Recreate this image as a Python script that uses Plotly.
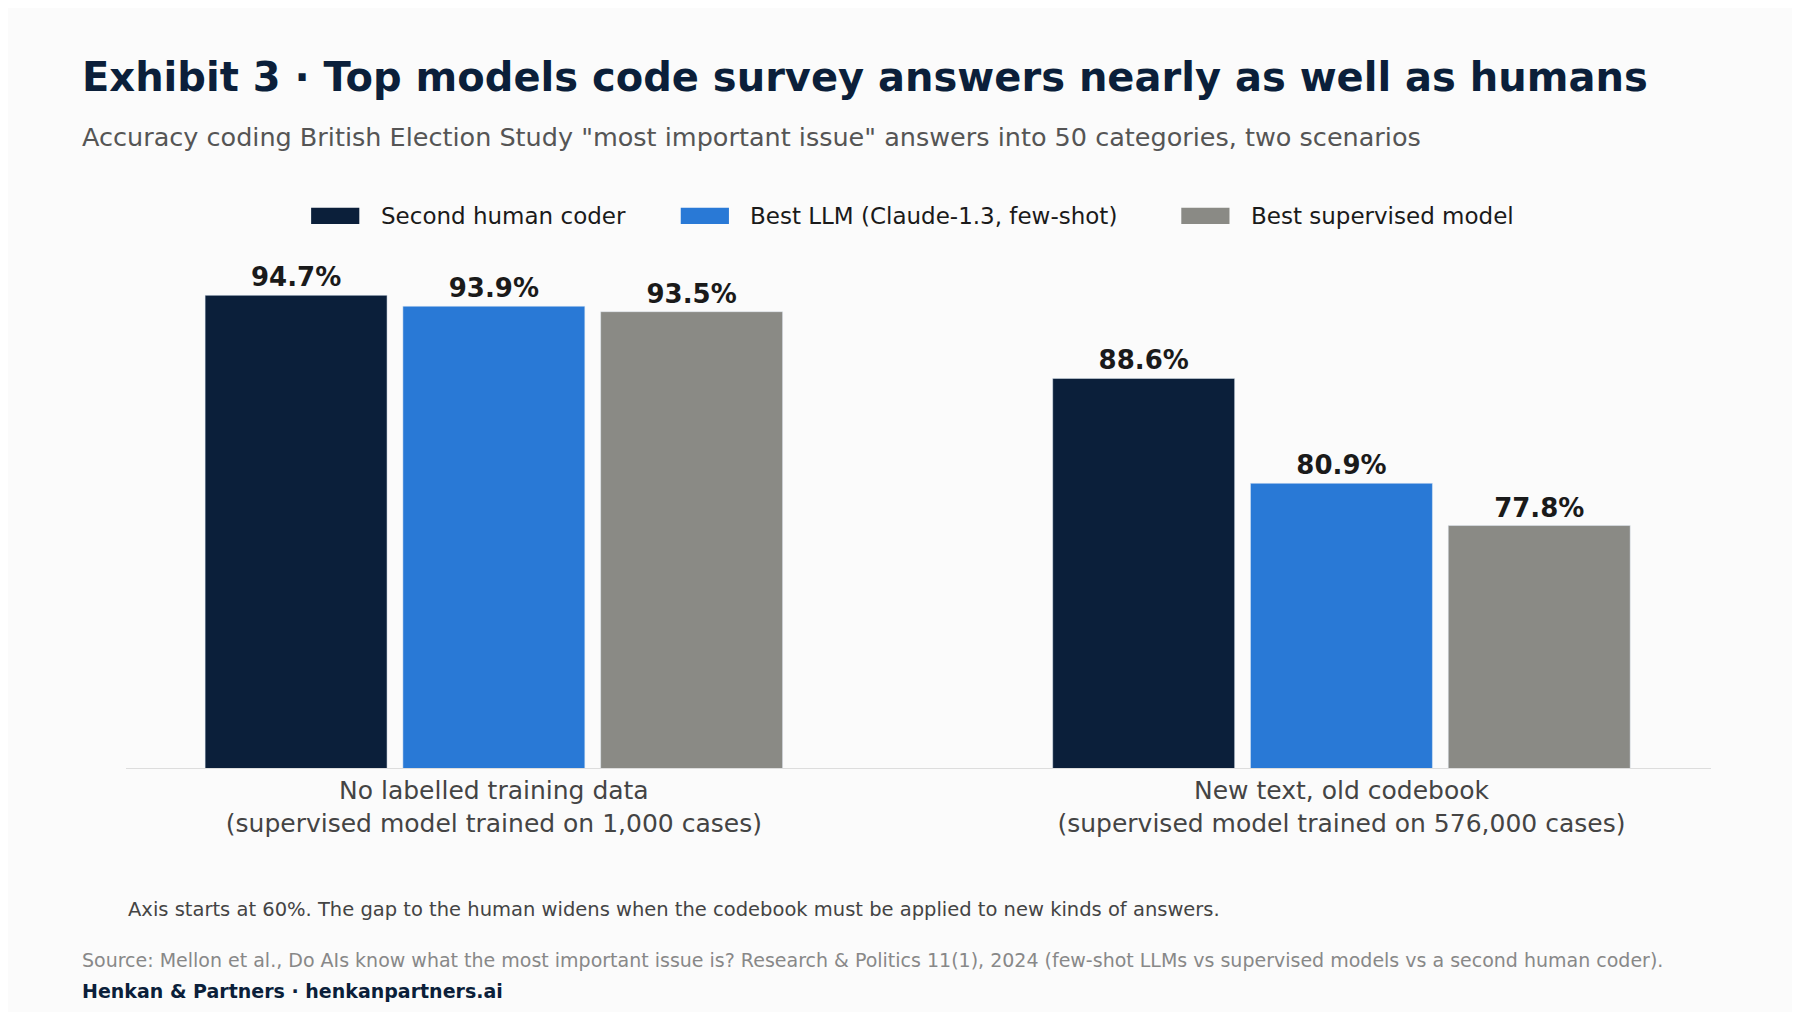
import plotly.graph_objects as go

categories = ["No labelled training data<br>(supervised model trained on 1,000 cases)",
              "New text, old codebook<br>(supervised model trained on 576,000 cases)"]
series_names = ["Second human coder", "Best LLM (Claude-1.3, few-shot)", "Best supervised model"]
human = [94.7, 88.6]
llm = [93.9, 80.9]
supervised = [93.5, 77.8]
colors = ["#0b1f3a", "#2979d6", "#8a8a85"]

F = "DejaVu Sans"
fig = go.Figure()
for name, vals, c in zip(series_names, [human, llm, supervised], colors):
    fig.add_trace(go.Bar(x=categories, y=vals, name=name, marker_color=c,
                         texttemplate="<b>%{y:.1f}%</b>", textposition="outside",
                         textfont=dict(size=26, color="#1a1a1a", family=F),
                         cliponaxis=False, showlegend=False))

fig.update_layout(
    width=1800, height=1012, barmode="group", bargap=0.3, bargroupgap=0.08,
    paper_bgcolor="#fbfbfb", plot_bgcolor="#fbfbfb",
    margin=dict(l=118, r=97, t=256, b=252),
    font=dict(family=F, color="#333"),
    xaxis=dict(range=[-0.434, 1.436], showline=True, linecolor="#dddddd", linewidth=1,
               tickfont=dict(size=25, color="#444"), ticks=""),
    yaxis=dict(range=[60, 97], visible=False),
)

# custom legend (wide swatches)
legend_pos = [(0.1168, 0.1472, 0.1595), (0.350, 0.3804, 0.3927), (0.6658, 0.6962, 0.7085)]
for (x0, x1, xt), name, c in zip(legend_pos, series_names, colors):
    fig.add_shape(type="rect", xref="paper", yref="paper", x0=x0, x1=x1, y0=1.0796, y1=1.1115,
                  fillcolor=c, line_width=0)
    fig.add_annotation(xref="paper", yref="paper", x=xt, y=1.0956, xanchor="left", yanchor="middle",
                       showarrow=False, text=name, font=dict(size=23, color="#1a1a1a"))

ann = [
    dict(x=-0.029, y=1.371, text="<b>Exhibit 3 · Top models code survey answers nearly as well as humans</b>",
         font=dict(size=40, color="#0b1f3a")),
    dict(x=-0.029, y=1.252, text='Accuracy coding British Election Study "most important issue" answers into 50 categories, two scenarios',
         font=dict(size=25.5, color="#555")),
    dict(x=0, y=-0.280, text="Axis starts at 60%. The gap to the human widens when the codebook must be applied to new kinds of answers.",
         font=dict(size=19.5, color="#444")),
    dict(x=-0.029, y=-0.381, text="Source: Mellon et al., Do AIs know what the most important issue is? Research & Politics 11(1), 2024 (few-shot LLMs vs supervised models vs a second human coder).",
         font=dict(size=19, color="#888")),
    dict(x=-0.029, y=-0.442, text="<b>Henkan & Partners · henkanpartners.ai</b>",
         font=dict(size=19, color="#0b1f3a")),
]
for a in ann:
    fig.add_annotation(xref="paper", yref="paper", xanchor="left", yanchor="middle",
                       showarrow=False, **a)
fig.write_html("out.html")
